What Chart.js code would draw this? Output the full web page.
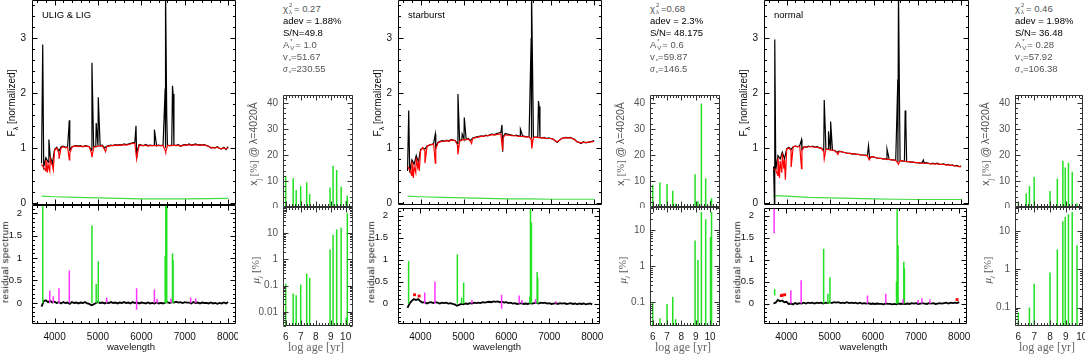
<!DOCTYPE html>
<html>
<head>
<meta charset="utf-8">
<script src="https://cdn.jsdelivr.net/npm/chart.js@4.4.1/dist/chart.umd.min.js"></script>
<style>
body{margin:0;background:#fff;width:1087px;height:354px;overflow:hidden;position:relative;font-family:"Liberation Sans",Arial,sans-serif}
canvas{position:absolute}
.t{position:absolute;white-space:nowrap;line-height:1}
.c{transform:translate(-50%,-50%)}
.r{transform:translate(-50%,-50%) rotate(-90deg)}
.st{font-size:9.5px;color:#555}
.st b{font-weight:normal;color:#000}
.ss{position:relative;display:inline-block;width:6px;height:9px;vertical-align:-1px;font-size:6px}
.ss .u{position:absolute;left:1px;top:-2px}
.ss .d{position:absolute;left:1px;top:5px}
.lo{font-size:6px;position:relative;top:3px;margin-left:1px}
.serif{font-family:"Liberation Serif",serif}
</style>
</head>
<body>
<script>
// wavelength grid for spectra and residuals
const specWave = [3700,3750,3800,3850,3900,3950,4000,4050,4100,4150,
  4200,4250,4300,4350,4400,4450,4500,4550,4600,4650,
  4700,4750,4800,4850,4900,4950,5000,5050,5100,5150,
  5200,5250,5300,5350,5400,5450,5500,5550,5600,5650,
  5700,5750,5800,5850,5900,5950,6000,6050,6100,6150,
  6200,6250,6300,6350,6400,6450,6500,6550,6600,6650,
  6700,6750,6800,6850,6900,6950,7000,7050,7100,7150,
  7200,7250,7300,7350,7400,7450,7500,7550,7600,7650,
  7700,7750,7800,7850,7900,7950,8000];

// ULIG & LIG
const obs1 = [0.72,0.66,0.82,0.74,0.84,0.72,0.97,1.01,0.94,1.02,
  1.03,1.01,1.02,0.96,1.02,1.03,1.04,1.03,1.04,1.02,
  1.04,1.03,1.02,0.96,1.03,1.02,1.04,1.04,1.05,1.00,
  1.03,1.04,1.05,1.04,1.06,1.05,1.06,1.05,1.07,1.06,
  1.07,1.08,1.09,1.10,0.94,1.06,1.05,1.04,1.06,1.04,
  1.05,1.04,1.05,1.04,1.05,1.04,1.05,1.00,1.05,1.04,
  1.05,1.05,1.04,1.06,1.03,1.05,1.06,1.05,1.07,1.05,
  1.06,1.07,1.05,1.06,1.05,1.06,1.04,1.03,1.00,1.01,
  1.00,1.02,0.99,0.98,1.01,0.97,1.02];
const mod1 = [0.70,0.64,0.78,0.70,0.80,0.68,0.95,1.00,0.90,1.00,
  1.02,1.00,1.01,0.90,1.01,1.03,1.03,1.02,1.03,1.02,
  1.03,1.03,1.02,0.90,1.01,1.02,1.03,1.03,1.04,0.97,
  1.02,1.03,1.04,1.04,1.05,1.04,1.05,1.05,1.06,1.05,
  1.06,1.07,1.08,1.08,0.86,1.05,1.04,1.04,1.05,1.03,
  1.04,1.04,1.04,1.04,1.04,1.04,1.04,0.95,1.04,1.04,
  1.04,1.05,1.04,1.05,1.03,1.04,1.05,1.05,1.06,1.05,
  1.05,1.06,1.05,1.05,1.05,1.05,1.04,1.03,1.00,1.00,
  1.00,1.01,0.99,0.98,1.00,0.98,1.00];
const res1 = [-0.08,0.04,0.06,0.02,0.05,0.01,0.03,0.00,0.02,-0.01,
  0.02,0.00,0.01,-0.02,0.02,0.00,0.01,-0.01,0.01,0.00,
  0.02,-0.01,-0.02,-0.05,-0.03,0.00,0.02,0.00,0.01,-0.01,
  0.01,0.00,0.02,0.00,0.01,-0.01,0.01,0.00,0.02,0.00,
  0.01,-0.01,0.02,0.00,0.01,-0.01,0.01,0.00,-0.01,0.01,
  -0.01,0.00,-0.01,0.01,-0.01,0.00,-0.01,0.01,0.02,0.00,
  0.02,0.01,0.03,0.01,0.02,0.00,0.02,0.01,0.01,-0.01,
  0.02,0.00,0.01,-0.01,0.01,0.00,0.00,-0.01,0.01,-0.01,
  0.00,-0.02,0.00,-0.01,0.01,-0.01,0.02];

// starburst
const obs2 = [0.58,0.55,0.78,0.70,0.86,0.74,0.97,1.00,0.98,1.03,
  1.05,1.06,1.08,1.00,1.10,1.12,1.13,1.12,1.14,1.12,
  1.15,1.14,1.13,1.08,1.13,1.15,1.16,1.15,1.17,1.13,
  1.18,1.19,1.20,1.21,1.22,1.21,1.23,1.22,1.24,1.25,
  1.24,1.26,1.27,1.28,1.20,1.26,1.25,1.24,1.23,1.22,
  1.23,1.22,1.21,1.22,1.21,1.20,1.21,1.17,1.20,1.19,
  1.20,1.19,1.18,1.19,1.17,1.18,1.17,1.16,1.13,1.10,
  1.14,1.17,1.18,1.19,1.18,1.19,1.17,1.15,1.11,1.10,
  1.08,1.11,1.09,1.10,1.11,1.12,1.13];
const mod2 = [0.66,0.60,0.75,0.66,0.82,0.72,0.95,1.00,0.95,1.03,
  1.05,1.06,1.07,0.98,1.09,1.11,1.12,1.12,1.13,1.12,
  1.14,1.14,1.13,1.05,1.12,1.14,1.15,1.15,1.16,1.12,
  1.17,1.18,1.19,1.20,1.21,1.21,1.22,1.22,1.23,1.24,
  1.23,1.24,1.25,1.25,1.18,1.24,1.23,1.23,1.22,1.22,
  1.22,1.21,1.21,1.21,1.20,1.20,1.20,1.15,1.19,1.19,
  1.19,1.18,1.18,1.18,1.17,1.17,1.17,1.16,1.13,1.11,
  1.14,1.17,1.18,1.18,1.18,1.18,1.17,1.15,1.11,1.10,
  1.09,1.10,1.10,1.10,1.11,1.11,1.12];
const res2 = [-0.10,0.00,0.06,0.10,0.08,0.10,0.05,0.02,0.03,0.00,
  0.02,0.03,0.01,0.03,0.02,0.00,0.02,0.01,0.02,0.00,
  0.01,-0.01,-0.02,-0.05,-0.03,-0.01,-0.02,0.00,-0.01,0.01,
  0.00,0.02,0.01,0.02,0.01,0.03,0.02,0.03,0.04,0.03,
  0.05,0.04,0.05,0.03,0.04,0.02,0.03,0.01,0.02,0.00,
  0.01,-0.01,0.00,0.01,-0.01,0.00,-0.01,0.01,0.00,0.01,
  0.02,0.00,0.02,0.01,0.02,0.00,0.01,-0.01,0.00,0.01,
  -0.01,0.01,0.00,0.01,-0.01,0.00,0.01,-0.01,0.00,-0.02,
  0.00,-0.01,0.00,-0.02,-0.01,0.00,-0.02];

// normal
const obs3 = [0.66,0.60,0.86,0.80,0.92,0.80,0.98,1.01,0.97,1.02,
  1.03,1.02,1.04,0.97,1.02,1.01,1.03,1.02,1.03,1.01,
  1.02,1.00,0.99,0.95,0.98,0.97,0.97,0.96,0.95,0.92,
  0.94,0.93,0.92,0.91,0.90,0.90,0.89,0.89,0.88,0.88,
  0.87,0.87,0.87,0.86,0.82,0.84,0.83,0.82,0.81,0.81,
  0.80,0.80,0.79,0.79,0.78,0.78,0.77,0.74,0.77,0.76,
  0.76,0.75,0.75,0.74,0.74,0.73,0.73,0.72,0.73,0.72,
  0.73,0.72,0.71,0.72,0.71,0.72,0.70,0.70,0.71,0.69,
  0.70,0.68,0.69,0.67,0.68,0.66,0.67];
const mod3 = [0.62,0.60,0.82,0.76,0.90,0.78,0.97,1.00,0.95,1.02,
  1.03,1.02,1.03,0.95,1.02,1.01,1.02,1.02,1.02,1.01,
  1.01,1.00,0.99,0.93,0.98,0.97,0.96,0.96,0.95,0.91,
  0.93,0.93,0.92,0.91,0.90,0.90,0.89,0.89,0.88,0.88,
  0.87,0.87,0.86,0.86,0.80,0.84,0.83,0.82,0.81,0.81,
  0.80,0.80,0.79,0.79,0.78,0.78,0.77,0.72,0.77,0.76,
  0.76,0.75,0.75,0.74,0.74,0.73,0.73,0.73,0.72,0.72,
  0.72,0.72,0.71,0.71,0.71,0.71,0.70,0.70,0.70,0.69,
  0.69,0.68,0.68,0.67,0.67,0.66,0.66];
const res3 = [0.00,0.02,0.08,0.05,0.07,0.03,0.04,-0.01,0.00,-0.02,
  0.01,-0.01,0.01,0.00,0.02,0.00,0.02,0.01,0.02,0.00,
  0.02,0.01,0.02,0.00,0.02,0.01,0.03,0.01,0.03,0.02,
  0.03,0.01,0.02,0.01,0.03,0.01,0.02,0.01,0.02,0.00,
  0.02,0.00,0.01,0.00,0.01,-0.01,0.00,-0.01,0.00,-0.01,
  -0.01,-0.02,0.00,-0.01,-0.01,-0.02,-0.01,-0.02,0.00,-0.01,
  0.00,-0.01,0.00,-0.01,0.01,0.00,0.01,-0.01,0.00,0.01,
  0.00,-0.01,0.01,0.00,0.01,-0.01,0.00,0.01,0.00,0.01,
  0.02,0.00,0.02,0.01,0.02,0.01,0.03];

// emission line peaks in the observed spectra
const lineW1 = [3727,3869,4340,4861,4959,5007,5876,5892,6300,6548,6563,6584,6717,6731];
const lineF1 = [2.88,1.15,1.50,2.55,1.45,1.92,1.40,0.80,1.33,2.08,3.90,1.60,2.13,1.98];
const lineW2 = [3727,4340,4861,4959,5007,5876,5892,6300,6548,6563,6584,6717,6731];
const lineF2 = [1.68,1.25,1.98,1.25,1.55,1.42,0.93,1.34,3.00,3.90,2.20,1.85,1.75];
const lineW3 = [3722,3727,4340,4861,4959,5007,5876,6300,6548,6563,6584,6717,6731,7135];
const lineF3 = [-0.10,2.97,1.15,1.87,1.30,1.48,1.04,0.98,2.25,3.90,2.05,1.68,1.50,0.78];

// absorption minima of the model spectra
const dipWave = [3770,3798,3835,3889,3934,3970,4102,4340,4861,5175,5890,6563];
const dipF1 = [0.62,0.58,0.55,0.58,0.70,0.60,0.80,0.78,0.83,0.93,0.80,0.93];
const dipF2 = [0.55,0.50,0.45,0.55,0.65,0.58,0.72,0.72,0.88,1.08,0.95,0.99];
const dipF3 = [0.55,0.50,0.45,0.55,0.62,0.42,0.65,0.62,0.80,0.88,0.78,0.70];

// error spectra
const errWave = [3700,4000,4500,5000,5500,6000,6500,7000,7500,8000];
const errF1 = [0.12,0.11,0.10,0.09,0.08,0.07,0.07,0.07,0.075,0.08];
const errF2 = [0.12,0.11,0.10,0.09,0.08,0.07,0.07,0.065,0.065,0.065];
const errF3 = [0.13,0.12,0.10,0.09,0.08,0.07,0.065,0.06,0.06,0.06];

// residual: masked emission lines (green)
const emWave = [3727,4861,4959,5007,6548,6563,6584,6717,6731];
const emTop1 = [2.30,1.72,0.42,0.93,1.05,2.30,2.30,1.10,0.95];
const emBase1 = [0,0,0,0,0,0,0,0,0];
const emTop2 = [0.97,1.12,0.14,0.48,0.15,2.30,1.85,0.72,0.60];
const emBase2 = [0,0,0,0,0,0,0,0,0];
const emTop3 = [0.33,1.25,0.22,0.60,0.50,2.30,1.33,0.95,0.80];
const emBase3 = [0.18,0,0,0,0,0,0,0,0];

// residual: clipped pixels (magenta)
const clipW1 = [3889,3970,4102,4340,5200,5890,6300,6364,6680,7135,7250];
const clipLo1 = [0,0,0,0,0,-0.15,0,0,0,0,0];
const clipHi1 = [0.28,0.15,0.33,0.72,0.12,0.33,0.30,0.09,0.10,0.12,0.10];
const clipW2 = [4102,4340,5200,5890,6300,6364,6680,7150];
const clipLo2 = [0,0,0,-0.12,0,0,0,0];
const clipHi2 = [0.25,0.50,0.08,0.20,0.18,0.08,0.10,0.05];
const clipW3 = [3715,4102,4340,5876,6300,6700,7050,7135,7320];
const clipLo3 = [1.60,0,0,0,0,0,0,0,0];
const clipHi3 = [2.30,0.30,0.53,0.18,0.22,0.10,0.08,0.12,0.10];

// residual: flagged points (red)
const flagW1 = [], flagF1 = [];
const flagW2 = [3865,3972], flagF2 = [0.20,0.17];
const flagW3 = [3880,3905,3960,7950], flagF3 = [0.18,0.19,0.20,0.09];

// population vectors
const logAge = [6.0,6.5,6.7,7.0,7.4,7.6,8.0,8.46,8.81,8.96,9.16,9.4,9.7,10.04,10.11];
const xj1 = [12,11,6.5,8,9.5,5,0,0,0,7.5,15.8,14.2,7.8,2.4,4.4];
const mu1 = [0.12,0.05,0.043,0.11,0.29,0.2,0,0,0,2.4,8.7,14,16.3,0.006,58];
const xj2 = [8.5,9.4,0,8.8,6.2,1.3,0,0,0,12.6,2.2,39.7,11,2.5,3.4];
const mu2 = [0.1,0.036,0,0.09,0.14,0.034,0,0,0,5.2,1.5,32,20,6.5,32];
const xj3 = [2,5.2,8,11.5,0,0,6.1,10.9,17.8,15.2,17,13.5,1.4,0,0];
const mu3 = [0.074,0.03,0.1,0.42,0,0,0.82,3.3,17.9,23,27,31,4.2,0,0];

// labels
const names = ['ULIG & LIG','starburst','normal'];
const chi2 = [' 0.27','0.68',' 0.46'];
const adev = ['1.88%','2.3%','1.98%'];
const sn = ['49.8',' 48.175',' 36.48'];
const av = [' 1.0',' 0.6',' 0.28'];
const vstar = ['51.67','59.87','57.92'];
const sigma = ['230.55','146.5','106.38'];
const waveTicks = [4000,5000,6000,7000,8000];
const specTicks = [0,1,2,3];
const resTicks = [0,0.5,1,1.5,2];
const xjTicks = [0,10,20,30,40];
const ageTicks = [6,7,8,9,10];
const muTicks = [[0.01,0.1,1,10],[0.1,1,10],[0.1,1,10]];

// layout
const specL = [32,398,764], specR = [236,602,969];
const sideL = [283,650,1015], sideR = [353,720,1083];
const ageRange = [[5.82,10.49],[5.81,10.7],[5.79,10.08]];
const muRange = [[0.0029,100],[0.022,44],[0.033,42]];

const green = '#22e022', magenta = '#ff33ff';

function pts(w, f) { return w.map((x, i) => ({x: x, y: f[i]})); }
function merged(w1, f1, w2, f2) { return pts(w1, f1).concat(pts(w2, f2)).sort((a, b) => a.x - b.x); }
// vertical segments lo..hi, separated by gaps
function sticks(w, lo, hi) {
  const out = [];
  w.forEach((x, i) => { out.push({x: x, y: lo[i]}, {x: x, y: hi[i]}, {x: x, y: null}); });
  return out;
}

function marks(s, step) {
  const out = [];
  if (step === 'log') {
    for (let d = Math.floor(Math.log10(s.min)); d <= Math.ceil(Math.log10(s.max)); d++)
      for (let k = 1; k < 10; k++) { const v = k * Math.pow(10, d); if (v >= s.min && v <= s.max) out.push([v, k === 1]); }
    return out;
  }
  const ratio = Math.round(step[0] / step[1]);
  for (let i = Math.ceil(s.min / step[1] - 1e-9); i * step[1] <= s.max + 1e-9; i++) out.push([i * step[1], i % ratio === 0]);
  return out;
}

function framePlugin(fx, fy, color) {
  return {
    id: 'frame',
    afterDraw(chart) {
      const {ctx, chartArea: a, scales} = chart;
      const L = Math.round(a.left) + 0.5, R = Math.round(a.right) - 0.5;
      const T = Math.round(a.top) + 0.5, B = Math.round(a.bottom) - 0.5;
      ctx.save();
      ctx.strokeStyle = color; ctx.lineWidth = 1;
      ctx.beginPath();
      ctx.rect(L, T, R - L, B - T);
      marks(scales.x, fx).forEach(([v, big]) => {
        const p = Math.round(scales.x.getPixelForValue(v)) + 0.5, n = big ? 5 : 2.5;
        ctx.moveTo(p, B); ctx.lineTo(p, B - n); ctx.moveTo(p, T); ctx.lineTo(p, T + n);
      });
      marks(scales.y, fy).forEach(([v, big]) => {
        const p = Math.round(scales.y.getPixelForValue(v)) + 0.5, n = big ? 5 : 2.5;
        ctx.moveTo(L, p); ctx.lineTo(L + n, p); ctx.moveTo(R, p); ctx.lineTo(R - n, p);
      });
      ctx.stroke();
      ctx.restore();
    }
  };
}

function axis(s, horiz, size) {
  return {
    type: s.type || 'linear', min: s.min, max: s.max, offset: false,
    grid: {display: false, drawTicks: false}, border: {display: false},
    ticks: {display: !!s.ticks, autoSkip: false, maxRotation: 0, padding: s.pad || 6,
      color: s.color || '#111', font: {family: 'Liberation Sans', size: s.size || 10},
      callback: v => String(v)},
    afterBuildTicks: sc => { sc.ticks = (s.ticks || []).map(v => ({value: v})); },
    afterFit: sc => {
      if (horiz) sc.height = size; else sc.width = size;
      sc.paddingLeft = sc.paddingRight = sc.paddingTop = sc.paddingBottom = 0;
    }
  };
}

function panel(box, mL, mB, type, datasets, xs, ys, fx, fy, color) {
  const w = box.r - box.l + mL + 2, h = box.b - box.t + mB + 2;
  const c = document.createElement('canvas');
  c.style.left = (box.l - mL) + 'px'; c.style.top = (box.t - 1) + 'px';
  c.style.width = w + 'px'; c.style.height = h + 'px';
  c.width = w; c.height = h;
  document.body.appendChild(c);
  new Chart(c, {
    type: type,
    data: {datasets: datasets},
    options: {
      responsive: false, animation: false, devicePixelRatio: 1,
      layout: {padding: {left: 0, right: 2, top: 1, bottom: 1}},
      plugins: {legend: {display: false}, tooltip: {enabled: false}},
      scales: {x: axis(xs, true, mB), y: axis(ys, false, mL)}
    },
    plugins: [framePlugin(fx, fy, color)]
  });
}

function txt(html, x, y, cls, style) {
  const d = document.createElement('div');
  d.className = 't ' + (cls || '');
  d.style.left = x + 'px'; d.style.top = y + 'px';
  if (style) d.style.cssText += style;
  d.innerHTML = html;
  document.body.appendChild(d);
}

const G = [
  {obs: obs1, mod: mod1, res: res1, lw: lineW1, lf: lineF1, dip: dipF1, err: errF1, emT: emTop1, emB: emBase1,
   cw: clipW1, cl: clipLo1, ch: clipHi1, fw: flagW1, ff: flagF1, xj: xj1, mu: mu1},
  {obs: obs2, mod: mod2, res: res2, lw: lineW2, lf: lineF2, dip: dipF2, err: errF2, emT: emTop2, emB: emBase2,
   cw: clipW2, cl: clipLo2, ch: clipHi2, fw: flagW2, ff: flagF2, xj: xj2, mu: mu2},
  {obs: obs3, mod: mod3, res: res3, lw: lineW3, lf: lineF3, dip: dipF3, err: errF3, emT: emTop3, emB: emBase3,
   cw: clipW3, cl: clipLo3, ch: clipHi3, fw: flagW3, ff: flagF3, xj: xj3, mu: mu3}
];

const lineDs = (data, color, width) => ({type: 'line', data: data, borderColor: color, borderWidth: width,
  pointRadius: 0, tension: 0, fill: false, spanGaps: false});
const barDs = data => ({data: data, backgroundColor: green, borderWidth: 0, barThickness: 1.5,
  inflateAmount: 0, grouped: false});

G.forEach((g, k) => {
  const wx = {min: 3480, max: 8180};
  // spectrum
  panel({l: specL[k], r: specR[k], t: 0, b: 205}, 32, 0, 'line', [
    lineDs(merged(specWave, g.mod, dipWave, g.dip), '#ff0000', 1.2),
    lineDs(merged(specWave, g.obs, g.lw, g.lf), '#000000', 1.2),
    lineDs(pts(errWave, g.err), '#44dd44', 1.2)
  ], wx, {min: -0.04, max: 3.69, ticks: specTicks, pad: 6}, [1000, 200], [1, 0.2], '#000');

  // residual
  panel({l: specL[k], r: specR[k], t: 205, b: 324}, 32, 30, 'line', [
    {type: 'scatter', data: pts(g.fw, g.ff), pointStyle: 'rect', pointRadius: 2, backgroundColor: '#ff0000', borderColor: '#ff0000', borderWidth: 0},
    lineDs(sticks(g.cw, g.cl, g.ch), magenta, 1.5),
    lineDs(sticks(emWave, g.emB, g.emT), green, 1.5),
    lineDs(pts(specWave, g.res), '#000000', 1.8)
  ], Object.assign({ticks: waveTicks, pad: 7}, wx), {min: -0.467, max: 2.178, ticks: resTicks, pad: 10, size: 9.5}, [1000, 200], [0.5, 0.1], '#000');

  const ax = {min: ageRange[k][0], max: ageRange[k][1]};
  // light fractions
  panel({l: sideL[k], r: sideR[k], t: 95, b: 207}, 25, 0, 'bar', [
    barDs(logAge.map((a, i) => ({x: a, y: g.xj[i]})).filter(d => d.y > 0))
  ], ax, {min: 0, max: 43, ticks: xjTicks, pad: 5, color: '#555'}, [1, 0.2], [10, 2], '#333');

  // mass fractions
  panel({l: sideL[k], r: sideR[k], t: 207, b: 326}, 25, 20, 'bar', [
    barDs(logAge.map((a, i) => ({x: a, y: g.mu[i]})).filter(d => d.y > 0))
  ], Object.assign({ticks: ageTicks, pad: 5, color: '#222'}, ax),
     {type: 'logarithmic', min: muRange[k][0], max: muRange[k][1], ticks: muTicks[k], pad: 5, color: '#555'}, [1, 0.2], 'log', '#333');

  // texts
  txt(names[k], specL[k] + 10, 10, '', 'font-size:9.5px;color:#000');
  txt('F<sub style="font-size:7px">λ</sub> [normalized]', specL[k] - 19, 103, 'r', 'font-size:10px;color:#111');
  txt('residual spectrum', specL[k] - 27, 262, 'r', 'font-size:9.5px;letter-spacing:0.4px;color:#111');
  txt('wavelength', (specL[k] + specR[k]) / 2 - 3, 347, 'c', 'font-size:9.5px;color:#111');
  txt('x<sub style="font-size:7px">j</sub> <span class="serif">[%]</span> @ λ=4020Å', sideL[k] - 28, 144, 'r', 'font-size:10.5px;color:#555');
  txt('<i class="serif">μ<sub style="font-size:7px">j</sub></i> <span class="serif">[%]</span>', sideL[k] - 26, 270, 'r', 'font-size:11px;color:#555');
  txt('log age [yr]', (sideL[k] + sideR[k]) / 2 - 2, 347, 'c serif', 'font-size:12px;color:#666');
  const x0 = sideL[k];
  txt('χ<span class="ss"><span class="u">2</span><span class="d">λ</span></span>=' + chi2[k], x0, 4, 'st');
  txt('<b>adev = ' + adev[k] + '</b>', x0, 16, 'st');
  txt('<b>S/N=' + sn[k] + '</b>', x0, 28, 'st');
  txt('A<span class="ss"><span class="u">*</span><span class="d">V</span></span>=' + av[k], x0, 40, 'st');
  txt('v<span class="lo">*</span>=' + vstar[k], x0, 52, 'st');
  txt('<i class="serif">σ</i><span class="lo">*</span>=' + sigma[k], x0, 64, 'st');
});
</script>
</body>
</html>
